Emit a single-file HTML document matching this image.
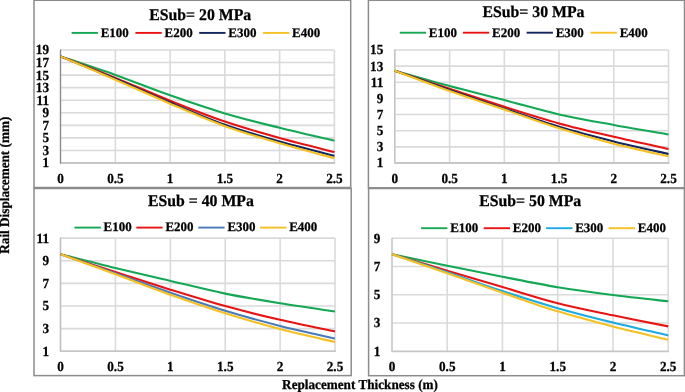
<!DOCTYPE html>
<html><head><meta charset="utf-8"><title>Rail Displacement vs Replacement Thickness</title>
<style>html,body{margin:0;padding:0;background:#fff;}body{width:685px;height:392px;overflow:hidden;}svg{display:block;will-change:transform;}text{font-family:"Liberation Serif", serif;font-weight:bold;fill:#000;stroke:#000;stroke-width:0.25px;text-rendering:geometricPrecision;}</style>
</head><body>
<svg width="685" height="392" viewBox="0 0 685 392">
<rect x="0" y="0" width="685" height="392" fill="#fff"/>
<g>
<line x1="60.6" y1="150.44" x2="334.4" y2="150.44" stroke="#dadada" stroke-width="1.6"/>
<line x1="60.6" y1="137.89" x2="334.4" y2="137.89" stroke="#dadada" stroke-width="1.6"/>
<line x1="60.6" y1="125.33" x2="334.4" y2="125.33" stroke="#dadada" stroke-width="1.6"/>
<line x1="60.6" y1="112.78" x2="334.4" y2="112.78" stroke="#dadada" stroke-width="1.6"/>
<line x1="60.6" y1="100.22" x2="334.4" y2="100.22" stroke="#dadada" stroke-width="1.6"/>
<line x1="60.6" y1="87.67" x2="334.4" y2="87.67" stroke="#dadada" stroke-width="1.6"/>
<line x1="60.6" y1="75.11" x2="334.4" y2="75.11" stroke="#dadada" stroke-width="1.6"/>
<line x1="60.6" y1="62.56" x2="334.4" y2="62.56" stroke="#dadada" stroke-width="1.6"/>
<line x1="60.6" y1="50" x2="334.4" y2="50" stroke="#dadada" stroke-width="1.6"/>
<line x1="115.36" y1="50" x2="115.36" y2="163" stroke="#dadada" stroke-width="1.6"/>
<line x1="170.12" y1="50" x2="170.12" y2="163" stroke="#dadada" stroke-width="1.6"/>
<line x1="224.88" y1="50" x2="224.88" y2="163" stroke="#dadada" stroke-width="1.6"/>
<line x1="279.64" y1="50" x2="279.64" y2="163" stroke="#dadada" stroke-width="1.6"/>
<line x1="334.4" y1="50" x2="334.4" y2="163" stroke="#dadada" stroke-width="1.6"/>
<line x1="60.6" y1="163" x2="335.2" y2="163" stroke="#c6c6c6" stroke-width="1.8"/>
<line x1="60.5" y1="49.4" x2="60.5" y2="163.6" stroke="#8a8a8a" stroke-width="1.4"/>
<text transform="translate(49,167.4) scale(1,1.05)" font-size="13.2" text-anchor="end">1</text>
<text transform="translate(49,154.84) scale(1,1.05)" font-size="13.2" text-anchor="end">3</text>
<text transform="translate(49,142.29) scale(1,1.05)" font-size="13.2" text-anchor="end">5</text>
<text transform="translate(49,129.73) scale(1,1.05)" font-size="13.2" text-anchor="end">7</text>
<text transform="translate(49,117.18) scale(1,1.05)" font-size="13.2" text-anchor="end">9</text>
<text transform="translate(49,104.62) scale(1,1.05)" font-size="13.2" text-anchor="end">11</text>
<text transform="translate(49,92.07) scale(1,1.05)" font-size="13.2" text-anchor="end">13</text>
<text transform="translate(49,79.51) scale(1,1.05)" font-size="13.2" text-anchor="end">15</text>
<text transform="translate(49,66.96) scale(1,1.05)" font-size="13.2" text-anchor="end">17</text>
<text transform="translate(49,54.4) scale(1,1.05)" font-size="13.2" text-anchor="end">19</text>
<text transform="translate(60.6,183) scale(1,1.05)" font-size="13.2" text-anchor="middle">0</text>
<text transform="translate(115.36,183) scale(1,1.05)" font-size="13.2" text-anchor="middle">0.5</text>
<text transform="translate(170.12,183) scale(1,1.05)" font-size="13.2" text-anchor="middle">1</text>
<text transform="translate(224.88,183) scale(1,1.05)" font-size="13.2" text-anchor="middle">1.5</text>
<text transform="translate(279.64,183) scale(1,1.05)" font-size="13.2" text-anchor="middle">2</text>
<text transform="translate(334.4,183) scale(1,1.05)" font-size="13.2" text-anchor="middle">2.5</text>
<path d="M60.6,56.4 C69.73,59.49 97.11,68.46 115.36,74.95 C133.61,81.44 151.87,88.94 170.12,95.35 C188.37,101.76 206.63,107.99 224.88,113.4 C243.13,118.81 261.39,123.25 279.64,127.8 C297.89,132.35 325.27,138.55 334.4,140.7" fill="none" stroke="#14a854" stroke-width="2.1" stroke-linecap="butt" stroke-linejoin="round"/>
<path d="M60.6,56.4 C69.73,59.98 97.11,70.52 115.36,77.9 C133.61,85.28 151.87,93.43 170.12,100.7 C188.37,107.97 206.63,115.28 224.88,121.5 C243.13,127.72 261.39,132.9 279.64,138 C297.89,143.1 325.27,149.75 334.4,152.1" fill="none" stroke="#e81414" stroke-width="2.1" stroke-linecap="butt" stroke-linejoin="round"/>
<path d="M60.6,56.4 C69.73,60.13 97.11,71.12 115.36,78.8 C133.61,86.48 151.87,94.85 170.12,102.5 C188.37,110.15 206.63,118.18 224.88,124.7 C243.13,131.22 261.39,136.4 279.64,141.6 C297.89,146.8 325.27,153.52 334.4,155.9" fill="none" stroke="#14265f" stroke-width="2.1" stroke-linecap="butt" stroke-linejoin="round"/>
<path d="M60.6,56.4 C69.73,60.28 97.11,71.82 115.36,79.7 C133.61,87.58 151.87,95.95 170.12,103.7 C188.37,111.45 206.63,119.62 224.88,126.2 C243.13,132.78 261.39,137.87 279.64,143.2 C297.89,148.53 325.27,155.7 334.4,158.2" fill="none" stroke="#f5c021" stroke-width="2.1" stroke-linecap="butt" stroke-linejoin="round"/>
<text transform="translate(149.2,20.2) scale(1,1.03)" font-size="15.8">ESub= 20 MPa</text>
<line x1="71.6" y1="32.9" x2="97.9" y2="32.9" stroke="#14a854" stroke-width="1.9"/>
<text transform="translate(100.7,36.75)" font-size="13">E100</text>
<line x1="135.4" y1="32.9" x2="161.7" y2="32.9" stroke="#e81414" stroke-width="1.9"/>
<text transform="translate(164.5,36.75)" font-size="13">E200</text>
<line x1="199.2" y1="32.9" x2="225.5" y2="32.9" stroke="#14265f" stroke-width="1.9"/>
<text transform="translate(228.3,36.75)" font-size="13">E300</text>
<line x1="263" y1="32.9" x2="289.3" y2="32.9" stroke="#f5c021" stroke-width="1.9"/>
<text transform="translate(292.1,36.75)" font-size="13">E400</text>
<rect x="34" y="0.3" width="316.7" height="187.2" fill="none" stroke="#8c8c8c" stroke-width="1.5"/>
</g>
<g>
<line x1="394.9" y1="146.86" x2="668.5" y2="146.86" stroke="#dadada" stroke-width="1.6"/>
<line x1="394.9" y1="130.71" x2="668.5" y2="130.71" stroke="#dadada" stroke-width="1.6"/>
<line x1="394.9" y1="114.57" x2="668.5" y2="114.57" stroke="#dadada" stroke-width="1.6"/>
<line x1="394.9" y1="98.43" x2="668.5" y2="98.43" stroke="#dadada" stroke-width="1.6"/>
<line x1="394.9" y1="82.29" x2="668.5" y2="82.29" stroke="#dadada" stroke-width="1.6"/>
<line x1="394.9" y1="66.14" x2="668.5" y2="66.14" stroke="#dadada" stroke-width="1.6"/>
<line x1="394.9" y1="50" x2="668.5" y2="50" stroke="#dadada" stroke-width="1.6"/>
<line x1="449.62" y1="50" x2="449.62" y2="163" stroke="#dadada" stroke-width="1.6"/>
<line x1="504.34" y1="50" x2="504.34" y2="163" stroke="#dadada" stroke-width="1.6"/>
<line x1="559.06" y1="50" x2="559.06" y2="163" stroke="#dadada" stroke-width="1.6"/>
<line x1="613.78" y1="50" x2="613.78" y2="163" stroke="#dadada" stroke-width="1.6"/>
<line x1="668.5" y1="50" x2="668.5" y2="163" stroke="#dadada" stroke-width="1.6"/>
<line x1="394.9" y1="163" x2="669.3" y2="163" stroke="#c6c6c6" stroke-width="1.8"/>
<line x1="394.8" y1="49.4" x2="394.8" y2="163.6" stroke="#c6c6c6" stroke-width="1.7"/>
<text transform="translate(383.3,167.4) scale(1,1.05)" font-size="13.2" text-anchor="end">1</text>
<text transform="translate(383.3,151.26) scale(1,1.05)" font-size="13.2" text-anchor="end">3</text>
<text transform="translate(383.3,135.11) scale(1,1.05)" font-size="13.2" text-anchor="end">5</text>
<text transform="translate(383.3,118.97) scale(1,1.05)" font-size="13.2" text-anchor="end">7</text>
<text transform="translate(383.3,102.83) scale(1,1.05)" font-size="13.2" text-anchor="end">9</text>
<text transform="translate(383.3,86.69) scale(1,1.05)" font-size="13.2" text-anchor="end">11</text>
<text transform="translate(383.3,70.54) scale(1,1.05)" font-size="13.2" text-anchor="end">13</text>
<text transform="translate(383.3,54.4) scale(1,1.05)" font-size="13.2" text-anchor="end">15</text>
<text transform="translate(394.9,183) scale(1,1.05)" font-size="13.2" text-anchor="middle">0</text>
<text transform="translate(449.62,183) scale(1,1.05)" font-size="13.2" text-anchor="middle">0.5</text>
<text transform="translate(504.34,183) scale(1,1.05)" font-size="13.2" text-anchor="middle">1</text>
<text transform="translate(559.06,183) scale(1,1.05)" font-size="13.2" text-anchor="middle">1.5</text>
<text transform="translate(613.78,183) scale(1,1.05)" font-size="13.2" text-anchor="middle">2</text>
<text transform="translate(668.5,183) scale(1,1.05)" font-size="13.2" text-anchor="middle">2.5</text>
<path d="M394.9,70.8 C404.02,73.35 431.38,81.22 449.62,86.1 C467.86,90.98 486.1,95.38 504.34,100.1 C522.58,104.82 540.82,110.25 559.06,114.4 C577.3,118.55 595.54,121.65 613.78,125 C632.02,128.35 659.38,132.92 668.5,134.5" fill="none" stroke="#14a854" stroke-width="2.1" stroke-linecap="butt" stroke-linejoin="round"/>
<path d="M394.9,70.8 C404.02,73.8 431.38,82.8 449.62,88.8 C467.86,94.8 486.1,101.03 504.34,106.8 C522.58,112.57 540.82,118.4 559.06,123.4 C577.3,128.4 595.54,132.53 613.78,136.8 C632.02,141.07 659.38,146.97 668.5,149" fill="none" stroke="#e81414" stroke-width="2.1" stroke-linecap="butt" stroke-linejoin="round"/>
<path d="M394.9,70.8 C404.02,73.98 431.38,83.58 449.62,89.9 C467.86,96.22 486.1,102.55 504.34,108.7 C522.58,114.85 540.82,121.35 559.06,126.8 C577.3,132.25 595.54,136.87 613.78,141.4 C632.02,145.93 659.38,151.9 668.5,154" fill="none" stroke="#14265f" stroke-width="2.1" stroke-linecap="butt" stroke-linejoin="round"/>
<path d="M394.9,70.8 C404.02,74.15 431.38,84.45 449.62,90.9 C467.86,97.35 486.1,103.27 504.34,109.5 C522.58,115.73 540.82,122.6 559.06,128.3 C577.3,134 595.54,139.02 613.78,143.7 C632.02,148.38 659.38,154.28 668.5,156.4" fill="none" stroke="#f5c021" stroke-width="2.1" stroke-linecap="butt" stroke-linejoin="round"/>
<text transform="translate(482.4,17.3) scale(1,1.03)" font-size="15.8">ESub= 30 MPa</text>
<line x1="399.7" y1="32.7" x2="426" y2="32.7" stroke="#14a854" stroke-width="1.9"/>
<text transform="translate(428.8,36.65)" font-size="13">E100</text>
<line x1="462.9" y1="32.7" x2="489.2" y2="32.7" stroke="#e81414" stroke-width="1.9"/>
<text transform="translate(492,36.65)" font-size="13">E200</text>
<line x1="526.6" y1="32.7" x2="552.9" y2="32.7" stroke="#14265f" stroke-width="1.9"/>
<text transform="translate(555.7,36.65)" font-size="13">E300</text>
<line x1="590.6" y1="32.7" x2="616.9" y2="32.7" stroke="#f5c021" stroke-width="1.9"/>
<text transform="translate(619.7,36.65)" font-size="13">E400</text>
<rect x="368.4" y="0.3" width="316.1" height="187.5" fill="none" stroke="#8c8c8c" stroke-width="1.5"/>
</g>
<g>
<line x1="60.6" y1="328.58" x2="335" y2="328.58" stroke="#dadada" stroke-width="1.6"/>
<line x1="60.6" y1="305.96" x2="335" y2="305.96" stroke="#dadada" stroke-width="1.6"/>
<line x1="60.6" y1="283.34" x2="335" y2="283.34" stroke="#dadada" stroke-width="1.6"/>
<line x1="60.6" y1="260.72" x2="335" y2="260.72" stroke="#dadada" stroke-width="1.6"/>
<line x1="60.6" y1="238.1" x2="335" y2="238.1" stroke="#dadada" stroke-width="1.6"/>
<line x1="115.48" y1="238.1" x2="115.48" y2="351.2" stroke="#dadada" stroke-width="1.6"/>
<line x1="170.36" y1="238.1" x2="170.36" y2="351.2" stroke="#dadada" stroke-width="1.6"/>
<line x1="225.24" y1="238.1" x2="225.24" y2="351.2" stroke="#dadada" stroke-width="1.6"/>
<line x1="280.12" y1="238.1" x2="280.12" y2="351.2" stroke="#dadada" stroke-width="1.6"/>
<line x1="335" y1="238.1" x2="335" y2="351.2" stroke="#dadada" stroke-width="1.6"/>
<line x1="60.6" y1="351.2" x2="335.8" y2="351.2" stroke="#c6c6c6" stroke-width="1.8"/>
<line x1="60.5" y1="237.5" x2="60.5" y2="351.8" stroke="#c0c0c0" stroke-width="1.6"/>
<text transform="translate(49,355.6) scale(1,1.05)" font-size="13.2" text-anchor="end">1</text>
<text transform="translate(49,332.98) scale(1,1.05)" font-size="13.2" text-anchor="end">3</text>
<text transform="translate(49,310.36) scale(1,1.05)" font-size="13.2" text-anchor="end">5</text>
<text transform="translate(49,287.74) scale(1,1.05)" font-size="13.2" text-anchor="end">7</text>
<text transform="translate(49,265.12) scale(1,1.05)" font-size="13.2" text-anchor="end">9</text>
<text transform="translate(49,242.5) scale(1,1.05)" font-size="13.2" text-anchor="end">11</text>
<text transform="translate(60.6,371.2) scale(1,1.05)" font-size="13.2" text-anchor="middle">0</text>
<text transform="translate(115.48,371.2) scale(1,1.05)" font-size="13.2" text-anchor="middle">0.5</text>
<text transform="translate(170.36,371.2) scale(1,1.05)" font-size="13.2" text-anchor="middle">1</text>
<text transform="translate(225.24,371.2) scale(1,1.05)" font-size="13.2" text-anchor="middle">1.5</text>
<text transform="translate(280.12,371.2) scale(1,1.05)" font-size="13.2" text-anchor="middle">2</text>
<text transform="translate(335,371.2) scale(1,1.05)" font-size="13.2" text-anchor="middle">2.5</text>
<path d="M60.6,254.2 C69.75,256.52 97.19,263.65 115.48,268.1 C133.77,272.55 152.07,276.65 170.36,280.9 C188.65,285.15 206.95,289.87 225.24,293.6 C243.53,297.33 261.83,300.32 280.12,303.3 C298.41,306.28 325.85,310.13 335,311.5" fill="none" stroke="#14a854" stroke-width="2.1" stroke-linecap="butt" stroke-linejoin="round"/>
<path d="M60.6,254.2 C69.75,257.17 97.19,266.08 115.48,272 C133.77,277.92 152.07,284.02 170.36,289.7 C188.65,295.38 206.95,301.08 225.24,306.1 C243.53,311.12 261.83,315.57 280.12,319.8 C298.41,324.03 325.85,329.55 335,331.5" fill="none" stroke="#e81414" stroke-width="2.1" stroke-linecap="butt" stroke-linejoin="round"/>
<path d="M60.6,254.2 C69.75,257.37 97.19,266.78 115.48,273.2 C133.77,279.62 152.07,286.45 170.36,292.7 C188.65,298.95 206.95,305.17 225.24,310.7 C243.53,316.23 261.83,321.27 280.12,325.9 C298.41,330.53 325.85,336.4 335,338.5" fill="none" stroke="#4a79b9" stroke-width="2.1" stroke-linecap="butt" stroke-linejoin="round"/>
<path d="M60.6,254.2 C69.75,257.55 97.19,267.53 115.48,274.3 C133.77,281.07 152.07,288.3 170.36,294.8 C188.65,301.3 206.95,307.58 225.24,313.3 C243.53,319.02 261.83,324.3 280.12,329.1 C298.41,333.9 325.85,339.93 335,342.1" fill="none" stroke="#f5c021" stroke-width="2.1" stroke-linecap="butt" stroke-linejoin="round"/>
<text transform="translate(147.9,206.3) scale(1,1.03)" font-size="15.8">ESub = 40 MPa</text>
<line x1="74.5" y1="227.6" x2="100.8" y2="227.6" stroke="#14a854" stroke-width="1.9"/>
<text transform="translate(103.6,231.4)" font-size="13">E100</text>
<line x1="136.3" y1="227.6" x2="162.6" y2="227.6" stroke="#e81414" stroke-width="1.9"/>
<text transform="translate(165.4,231.4)" font-size="13">E200</text>
<line x1="198.3" y1="227.6" x2="224.6" y2="227.6" stroke="#4a79b9" stroke-width="1.9"/>
<text transform="translate(227.4,231.4)" font-size="13">E300</text>
<line x1="260.1" y1="227.6" x2="286.4" y2="227.6" stroke="#f5c021" stroke-width="1.9"/>
<text transform="translate(289.2,231.4)" font-size="13">E400</text>
<rect x="34" y="188.5" width="317.2" height="187.1" fill="none" stroke="#8c8c8c" stroke-width="1.5"/>
</g>
<g>
<line x1="392" y1="323.05" x2="668.2" y2="323.05" stroke="#dadada" stroke-width="1.6"/>
<line x1="392" y1="294.8" x2="668.2" y2="294.8" stroke="#dadada" stroke-width="1.6"/>
<line x1="392" y1="266.55" x2="668.2" y2="266.55" stroke="#dadada" stroke-width="1.6"/>
<line x1="392" y1="238.3" x2="668.2" y2="238.3" stroke="#dadada" stroke-width="1.6"/>
<line x1="447.24" y1="238.3" x2="447.24" y2="351.3" stroke="#dadada" stroke-width="1.6"/>
<line x1="502.48" y1="238.3" x2="502.48" y2="351.3" stroke="#dadada" stroke-width="1.6"/>
<line x1="557.72" y1="238.3" x2="557.72" y2="351.3" stroke="#dadada" stroke-width="1.6"/>
<line x1="612.96" y1="238.3" x2="612.96" y2="351.3" stroke="#dadada" stroke-width="1.6"/>
<line x1="668.2" y1="238.3" x2="668.2" y2="351.3" stroke="#dadada" stroke-width="1.6"/>
<line x1="392" y1="351.3" x2="669" y2="351.3" stroke="#c6c6c6" stroke-width="1.8"/>
<line x1="392" y1="237.7" x2="392" y2="351.9" stroke="#cacaca" stroke-width="1.7"/>
<text transform="translate(380.4,355.7) scale(1,1.05)" font-size="13.2" text-anchor="end">1</text>
<text transform="translate(380.4,327.45) scale(1,1.05)" font-size="13.2" text-anchor="end">3</text>
<text transform="translate(380.4,299.2) scale(1,1.05)" font-size="13.2" text-anchor="end">5</text>
<text transform="translate(380.4,270.95) scale(1,1.05)" font-size="13.2" text-anchor="end">7</text>
<text transform="translate(380.4,242.7) scale(1,1.05)" font-size="13.2" text-anchor="end">9</text>
<text transform="translate(392,371.3) scale(1,1.05)" font-size="13.2" text-anchor="middle">0</text>
<text transform="translate(447.24,371.3) scale(1,1.05)" font-size="13.2" text-anchor="middle">0.5</text>
<text transform="translate(502.48,371.3) scale(1,1.05)" font-size="13.2" text-anchor="middle">1</text>
<text transform="translate(557.72,371.3) scale(1,1.05)" font-size="13.2" text-anchor="middle">1.5</text>
<text transform="translate(612.96,371.3) scale(1,1.05)" font-size="13.2" text-anchor="middle">2</text>
<text transform="translate(668.2,371.3) scale(1,1.05)" font-size="13.2" text-anchor="middle">2.5</text>
<path d="M392,254.2 C401.21,256.12 428.83,261.93 447.24,265.7 C465.65,269.47 484.07,273.22 502.48,276.8 C520.89,280.38 539.31,284.17 557.72,287.2 C576.13,290.23 594.55,292.65 612.96,295 C631.37,297.35 658.99,300.25 668.2,301.3" fill="none" stroke="#14a854" stroke-width="2.1" stroke-linecap="butt" stroke-linejoin="round"/>
<path d="M392,254.2 C401.21,256.95 428.83,265.23 447.24,270.7 C465.65,276.17 484.07,281.58 502.48,287 C520.89,292.42 539.31,298.48 557.72,303.2 C576.13,307.92 594.55,311.43 612.96,315.3 C631.37,319.17 658.99,324.55 668.2,326.4" fill="none" stroke="#e81414" stroke-width="2.1" stroke-linecap="butt" stroke-linejoin="round"/>
<path d="M392,254.2 C401.21,257.2 428.83,266.05 447.24,272.2 C465.65,278.35 484.07,285.1 502.48,291.1 C520.89,297.1 539.31,302.95 557.72,308.2 C576.13,313.45 594.55,318.07 612.96,322.6 C631.37,327.13 658.99,333.27 668.2,335.4" fill="none" stroke="#1cabe0" stroke-width="2.1" stroke-linecap="butt" stroke-linejoin="round"/>
<path d="M392,254.2 C401.21,257.38 428.83,266.87 447.24,273.3 C465.65,279.73 484.07,286.47 502.48,292.8 C520.89,299.13 539.31,305.68 557.72,311.3 C576.13,316.92 594.55,321.75 612.96,326.5 C631.37,331.25 658.99,337.58 668.2,339.8" fill="none" stroke="#f5c021" stroke-width="2.1" stroke-linecap="butt" stroke-linejoin="round"/>
<text transform="translate(479.2,206.2) scale(1,1.03)" font-size="15.8">ESub= 50 MPa</text>
<line x1="421.1" y1="228.2" x2="447.4" y2="228.2" stroke="#14a854" stroke-width="1.9"/>
<text transform="translate(450.2,232)" font-size="13">E100</text>
<line x1="483.7" y1="228.2" x2="510" y2="228.2" stroke="#e81414" stroke-width="1.9"/>
<text transform="translate(512.8,232)" font-size="13">E200</text>
<line x1="546.1" y1="228.2" x2="572.4" y2="228.2" stroke="#1cabe0" stroke-width="1.9"/>
<text transform="translate(575.2,232)" font-size="13">E300</text>
<line x1="608.7" y1="228.2" x2="635" y2="228.2" stroke="#f5c021" stroke-width="1.9"/>
<text transform="translate(637.8,232)" font-size="13">E400</text>
<rect x="368.6" y="188.5" width="315.8" height="187.2" fill="none" stroke="#8c8c8c" stroke-width="1.5"/>
</g>
<text transform="translate(8.9,185.2) rotate(-90) scale(1,1.04)" font-size="13.2" text-anchor="middle">Rail Displacement (mm)</text>
<text transform="translate(360,388.9) scale(1,1.04)" font-size="13.2" text-anchor="middle">Replacement Thickness (m)</text>
</svg>
</body></html>
